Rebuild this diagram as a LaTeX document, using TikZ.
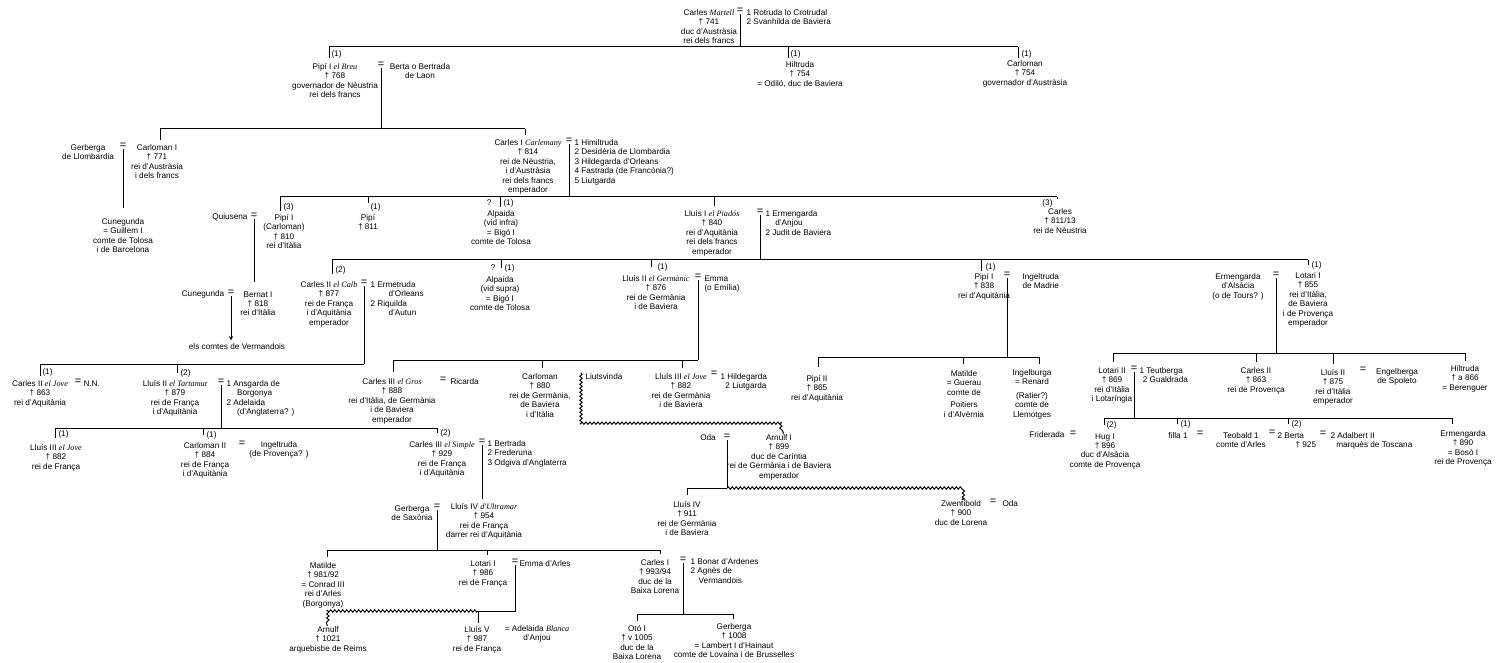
\documentclass[tikz,border=0pt]{standalone}
\usepackage{fontspec}
\setmainfont{Liberation Sans}
\newfontfamily\epfont{Liberation Serif}
\newcommand{\epit}[1]{{\epfont\itshape #1}}
\usetikzlibrary{decorations.pathmorphing}

\begin{document}
\begin{tikzpicture}[x=1pt,y=-1pt,line width=1pt,>=stealth,
  every node/.style={inner sep=0pt,font=\fontsize{8.2}{9.4}\selectfont}]
\tikzstyle{persona}=[anchor=north,align=center,yshift=3pt]
\tikzstyle{esposes}=[anchor=north west,align=left,yshift=3pt]
\tikzstyle{ord}=[anchor=west]
\tikzstyle{igual}=[font=\fontsize{11}{11}\selectfont]
\tikzstyle{ondulat}=[decorate,decoration={snake,amplitude=1.1pt,segment length=4pt}]

\useasboundingbox (0,0) rectangle (1500,663);

% Carles Martell
\node[persona] (cmart) at (709,12) {Carles \epit{Martell}\\† 741\\duc d'Austràsia\\rei dels francs};
\node[igual] (e1) at (740,11) {=};
\node[esposes] (cmartw) at (746,12) {1 Rotruda lo Crotrudal\\2 Svanhilda de Baviera};

% Fills de Carles Martell
\node[ord] (o1a) at (331,54) {(1)};
\node[ord] (o1b) at (790,54) {(1)};
\node[ord] (o1c) at (1021,54) {(1)};
\node[persona] (pipi) at (335,66) {Pipí I \epit{el Breu}\\† 768\\governador de Nèustria\\rei dels francs};
\node[igual] (e2) at (381,65) {=};
\node[persona] (berta) at (420,66) {Berta o Bertrada\\de Laon};
\node[persona] (hiltr) at (800,64) {Hiltruda\\† 754\\= Odiló, duc de Baviera};
\node[persona] (carlo) at (1025,63) {Carloman\\† 754\\governador d'Austràsia};

% Fills de Pipí el Breu
\node[persona] (gerb) at (88,147) {Gerberga\\de Llombardia};
\node[igual] (e3) at (123,146) {=};
\node[persona] (carl1) at (157,147) {Carloman I\\† 771\\rei d'Austràsia\\i dels francs};
\node[persona] (cune1) at (123,221) {Cunegunda\\= Guillem I\\comte de Tolosa\\i de Barcelona};
\node[persona] (carlem) at (528,142) {Carles I \epit{Carlemany}\\† 814\\rei de Nèustria,\\i d'Austràsia\\rei dels francs\\emperador};
\node[igual] (e4) at (569,141) {=};
\node[esposes] (carlemw) at (574,142) {1 Himiltruda\\2 Desidèria de Llombardia\\3 Hildegarda d'Orleans\\4 Fastrada (de Francònia?)\\5 Liutgarda};

% Fills de Carlemany
\node[ord] (o3a) at (283,207) {(3)};
\node[ord] (o3b) at (370,207) {(1)};
\node[anchor=east] (q3c) at (492,203) {?};
\node[ord] (o3c) at (503,203) {(1)};
\node[anchor=east] (o3e) at (1053,203) {(3)};
\node (quius) at (230,217) {Quiusena};
\node[igual] (e5) at (254,216) {=};
\node[persona] (pipi1) at (284,217) {Pipí I\\(Carloman)\\† 810\\rei d'Itàlia};
\node[persona] (pipi2) at (368,217) {Pipí\\† 811};
\node[persona] (alpa1) at (501,213) {Alpaida\\(vid infra)\\= Bigó I\\comte de Tolosa};
\node[persona] (lluis1) at (712,213) {Lluís I \epit{el Piadós}\\† 840\\rei d'Aquitània\\rei dels francs\\emperador};
\node[igual] (e6) at (760,212) {=};
\node[esposes] (lluis1w) at (765,213) {1 Ermengarda\\\hspace*{1.2em}d'Anjou\\2 Judit de Baviera};
\node[persona] (carl3) at (1060,211) {Carles\\† 811/13\\rei de Nèustria};

% Bernat d'Itàlia
\node (cune2) at (203,294) {Cunegunda};
\node[igual] (e7) at (231,293) {=};
\node[persona] (bern) at (258,294) {Bernat I\\† 818\\rei d'Itàlia};
\node (verm) at (237,347) {els comtes de Vermandois};

% Fills de Lluís el Piadós
\node[ord] (o4a) at (335,270) {(2)};
\node[anchor=east] (q4b) at (496,268) {?};
\node[ord] (o4b) at (504,268) {(1)};
\node[ord] (o4c) at (657,267) {(1)};
\node[ord] (o4d) at (985,267) {(1)};
\node[ord] (o4e) at (1311,265) {(1)};
\node[persona] (calb) at (329,284) {Carles II \epit{el Calb}\\† 877\\rei de França\\i d'Aquitània\\emperador};
\node[igual] (e8) at (364,283) {=};
\node[esposes] (calbw) at (370,284) {1 Ermetruda\\\hspace*{2.2em}d'Orleans\\2 Riquilda\\\hspace*{2.2em}d'Autun};
\node[persona] (alpa2) at (500,279) {Alpaida\\(vid supra)\\= Bigó I\\comte de Tolosa};
\node[persona] (germ) at (656,278) {Lluís II \epit{el Germànic}\\† 876\\rei de Germània\\i de Baviera};
\node[igual] (e9) at (698,277) {=};
\node[esposes] (emma) at (704,278) {Emma\\(o Emília)};
\node[persona] (pipi3) at (984,276) {Pipí I\\† 838\\rei d'Aquitània};
\node[igual] (e10) at (1007,275) {=};
\node[esposes] (ingel) at (1022,276) {Ingeltruda\\de Madrie};
\node[persona] (ermal) at (1238,276) {Ermengarda\\d'Alsàcia\\(o de Tours? )};
\node[igual] (e11) at (1276,275) {=};
\node[persona] (lot1) at (1308,275) {Lotari I\\† 855\\rei d'Itàlia,\\de Baviera\\i de Provença\\emperador};

% Fills de Carles el Calb
\node[ord] (o5a) at (42,372) {(1)};
\node[ord] (o5b) at (180,373) {(2)};
\node[persona] (jove1) at (40,383) {Carles II \epit{el Jove}\\† 863\\rei d'Aquitània};
\node[igual] (e12) at (78,382) {=};
\node[esposes] (nn) at (83,383) {N.N.};
\node[persona] (tart) at (175,383) {Lluís II \epit{el Tartamut}\\† 879\\rei de França\\i d'Aquitània};
\node[igual] (e13) at (221,382) {=};
\node[esposes] (tartw) at (226,383) {1 Ansgarda de\\\hspace*{1.3em}Borgonya\\2 Adelaida\\\hspace*{1.3em}(d'Anglaterra? )};

% Fills de Lluís el Germànic
\node[persona] (gros) at (392,381) {Carles III \epit{el Gros}\\† 888\\rei d'Itàlia, de Germània\\i de Baviera\\emperador};
\node[igual] (e14) at (443,380) {=};
\node[esposes] (ricar) at (450,381) {Ricarda};
\node[persona] (carl4) at (540,376) {Carloman\\† 880\\rei de Germània,\\de Baviera\\i d'Itàlia};
\node[esposes] (liuts) at (585,376) {Liutsvinda};
\node[persona] (jove2) at (681,376) {Lluís III \epit{el Jove}\\† 882\\rei de Germània\\i de Baviera};
\node[igual] (e15) at (714,374) {=};
\node[esposes] (jove2w) at (720,376) {1 Hildegarda\\\hspace*{0.6em}2 Liutgarda};

% Fills de Pipí I d'Aquitània
\node[persona] (pipi4) at (817,378) {Pipí II\\† 865\\rei d'Aquitània};
\node[persona] (matil1) at (964,373) {Matilde\\= Guerau\\comte de\\[3pt]Poitiers\\i d'Alvèrnia};
\node[persona] (ingb) at (1032,372) {Ingelburga\\= Renard\\[4pt](Ratier?)\\comte de\\Llemotges};

% Fills de Lotari I
\node[persona] (lot2) at (1112,370) {Lotari II\\† 869\\rei d'Itàlia\\i Lotaríngia};
\node[igual] (e16) at (1134,369) {=};
\node[esposes] (lot2w) at (1139,370) {1 Teutberga\\\hspace*{0.4em}2 Gualdrada};
\node[persona] (carl5) at (1256,370) {Carles II\\† 863\\rei de Provença};
\node[persona] (lluis2) at (1333,372) {Lluís II\\† 875\\rei d'Itàlia\\emperador};
\node[igual] (e17) at (1363,370) {=};
\node[persona] (engel) at (1397,371) {Engelberga\\de Spoleto};
\node[persona] (hiltr2) at (1465,368) {Hiltruda\\† a 866\\= Berenguer};

% Fills de Lluís el Tartamut
\node[ord] (o6a) at (58,434) {(1)};
\node[ord] (o6b) at (206,435) {(1)};
\node[ord] (o6c) at (440,433) {(2)};
\node[persona] (jove3) at (56,447) {Lluís III \epit{el Jove}\\† 882\\rei de França};
\node[persona] (carl6) at (205,445) {Carloman II\\† 884\\rei de França\\i d'Aquitània};
\node[igual] (e18) at (242,444) {=};
\node[persona] (ingt) at (279,444) {Ingeltruda\\(de Provença? )};
\node[persona] (simp) at (442,444) {Carles III \epit{el Simple}\\† 929\\rei de França\\i d'Aquitània};
\node[igual] (e19) at (482,442) {=};
\node[esposes] (simpw) at (487,443) {1 Bertrada\\2 Frederuna\\3 Odgiva d'Anglaterra};
\node[persona] (ultr) at (484,506) {Lluís IV \epit{d'Ultramar}\\† 954\\rei de França\\darrer rei d'Aquitània};
\node[persona] (gerb2) at (412,508) {Gerberga\\de Saxònia};
\node[igual] (e20) at (437,507) {=};

% Arnulf de Caríntia
\node (oda1) at (708,438) {Oda};
\node[igual] (e21) at (727,437) {=};
\node[persona] (arn1) at (779,437) {Arnulf I\\† 899\\duc de Caríntia\\rei de Germània i de Baviera\\emperador};
\node[persona] (lluis4) at (687,504) {Lluís IV\\† 911\\rei de Germània\\i de Baviera};
\node[persona] (zwent) at (961,503) {Zwentibold\\† 900\\duc de Lorena};
\node[igual] (e22) at (993,502) {=};
\node[esposes] (oda2) at (1002,503) {Oda};

% Fills de Lotari II
\node[ord] (o6d) at (1106,425) {(2)};
\node[ord] (o6e) at (1180,424) {(1)};
\node[ord] (o6f) at (1291,424) {(2)};
\node (frid) at (1047,435) {Friderada};
\node[igual] (e23) at (1073,434) {=};
\node[persona] (hug) at (1105,436) {Hug I\\† 896\\duc d'Alsàcia\\comte de Provença};
\node[persona] (filla) at (1178,435) {filla 1};
\node[igual] (e24) at (1200,434) {=};
\node[persona] (teob) at (1241,435) {Teobald 1\\comte d'Arles};
\node[igual] (e25) at (1272,433) {=};
\node[esposes] (berta2) at (1277,435) {2 Berta\\\hspace*{2.2em}† 925};
\node[igual] (e26) at (1323,434) {=};
\node[esposes] (adal) at (1330,435) {2 Adalbert II\\\hspace*{0.7em}marquès de Toscana};
\node[persona] (ermen) at (1463,433) {Ermengarda\\† 890\\= Bosó I\\rei de Provença};

% Fills de Lluís d'Ultramar
\node[persona] (matil2) at (323,565) {Matilde\\† 981/92\\= Conrad III\\rei d'Arles\\(Borgonya)};
\node[persona] (lot3) at (483,563) {Lotari I\\† 986\\rei de França};
\node[igual] (e27) at (515,562) {=};
\node[esposes] (emma2) at (519,563) {Emma d'Arles};
\node[persona] (carl7) at (655,562) {Carles I\\† 993/94\\duc de la\\Baixa Lorena};
\node[igual] (e28) at (683,560) {=};
\node[esposes] (carl7w) at (690,561) {1 Bonar d'Ardenes\\2 Agnès de\\\hspace*{1em}Vermandois};
\node[persona] (arn2) at (328,629) {Arnulf\\† 1021\\arquebisbe de Reims};
\node[persona] (lluis5) at (477,629) {Lluís V\\† 987\\rei de França};
\node[persona] (adel) at (537,628) {= Adelaida \epit{Blanca}\\d'Anjou};
\node[persona] (oto) at (637,628) {Otó I\\† v 1005\\duc de la\\Baixa Lorena};
\node[persona] (gerb3) at (734,626) {Gerberga\\† 1008\\= Lambert I d'Hainaut\\comte de Lovaina i de Brusselles};

% Barres de germans
\coordinate (b1a) at (329,47);  \coordinate (b1b) at (788,47);  \coordinate (b1c) at (1018,47);
\coordinate (b2a) at (160,129); \coordinate (b2b) at (525,129);
\coordinate (b3a) at (280,197); \coordinate (b3b) at (368,197); \coordinate (b3c) at (500,197);
\coordinate (b3d) at (714,197); \coordinate (b3e) at (1057,197);
\coordinate (b4a) at (332,260); \coordinate (b4b) at (501,260); \coordinate (b4c) at (651,260);
\coordinate (b4d) at (981,260); \coordinate (b4e) at (1308,260);
\coordinate (b5a) at (40,364);  \coordinate (b5b) at (177,364);
\coordinate (b5c) at (393,360); \coordinate (b5d) at (542,360); \coordinate (b5e) at (682,360);
\coordinate (b5f) at (818,357); \coordinate (b5g) at (963,357); \coordinate (b5h) at (1039,357);
\coordinate (b5i) at (1113,353); \coordinate (b5j) at (1256,353); \coordinate (b5k) at (1333,353);
\coordinate (b5l) at (1465,353);
\coordinate (b6a) at (55,428);  \coordinate (b6b) at (203,428); \coordinate (b6c) at (437,428);
\coordinate (b6d) at (1104,418); \coordinate (b6e) at (1177,418); \coordinate (b6f) at (1288,418);
\coordinate (b6g) at (1452,418);
\coordinate (b7a) at (327,550); \coordinate (b7b) at (487,550); \coordinate (b7c) at (660,550);
\coordinate (b8a) at (687,488); \coordinate (b8b) at (962,488);
\coordinate (b9a) at (478,611); \coordinate (b9b) at (327,611);
\coordinate (b9c) at (637,614); \coordinate (b9d) at (733,614);
\coordinate (w5a) at ([xshift=-4pt]liuts.north west);
\coordinate (w5b) at (783,423);

% Linies de matrimoni
\draw (e1.south) -- (e1.south |- b1a);
\draw (e2.south) -- (e2.south |- b2a);
\draw[shorten >=10pt] (e3.south) -- (cune1.north);
\draw (e4.south) -- (e4.south |- b3a);
\draw[shorten >=9pt] (e5.south) -- (e5.south |- bern.north);
\draw (e6.south) -- (e6.south |- b4a);
\draw[->,shorten >=3pt] (e7.south) -- (e7.south |- verm.north);
\draw (e8.south) -- (e8.south |- b5a);
\draw (e9.south) -- (e9.south |- b5c);
\draw (e10.south) -- (e10.south |- b5f);
\draw (e11.south) -- (e11.south |- b5i);
\draw (e13.south) -- (e13.south |- b6a);
\draw (e16.south) -- (e16.south |- b6d);
\draw[shorten >=4pt] (e19.south) -- (e19.south |- ultr.north);
\draw (e20.south) -- (e20.south |- b7a);
\draw (e21.south) -- (e21.south |- b8a);
\draw (e27.south) -- (e27.south |- b9a) -- (b9a);
\draw (e28.south) -- (e28.south |- b9c);

% Barres
\draw (b1a) -- (b1c);
\draw (b2a) -- (b2b);
\draw (b3a) -- (b3e);
\draw (b4a) -- (b4e);
\draw (b5a) -- (e8.south |- b5a);
\draw (b5c) -- (e9.south |- b5c);
\draw (b5f) -- (b5h);
\draw (b5i) -- (b5l);
\draw (b6a) -- (b6c);
\draw (b6d) -- (b6g);
\draw (b7a) -- (b7c);
\draw (b8a) -- (e21.south |- b8a);
\draw (b9c) -- (b9d);

% Fills il.legitims
\draw[ondulat] (w5a) |- (w5b) -- (w5b |- arn1.north);
\draw[ondulat] (e21.south |- b8a) -- (b8b) -- (b8b |- zwent.north);
\draw[ondulat] (b9a) -- (b9b) -- (b9b |- arn2.north);

% Traços cap als fills
\draw (b1a) -- (b1a |- o1a.south);
\draw (b1b) -- (b1b |- o1b.south);
\draw (b1c) -- (b1c |- o1c.south);
\draw[shorten >=4pt] (b2a) -- (b2a |- carl1.north);
\draw[shorten >=4pt] (b2b) -- (b2b |- carlem.north);
\draw (b3a) -- (b3a |- o3a.south);
\draw (b3b) -- (b3b |- o3b.north);
\draw (b3c) -- (b3c |- o3c.south);
\draw[shorten >=4pt] (b3d) -- (b3d |- lluis1.north);
\draw (b3e) -- (b3e |- o3e.north);
\draw (b4a) -- (b4a |- o4a.south);
\draw (b4b) -- (b4b |- o4b.center);
\draw (b4c) -- (b4c |- o4c.center);
\draw (b4d) -- (b4d |- o4d.south);
\draw (b4e) -- (b4e |- o4e.center);
\draw (b5a) -- (b5a |- o5a.south);
\draw (b5b) -- (b5b |- o5b.center);
\draw[shorten >=6pt] (b5c) -- (b5c |- gros.north);
\draw[shorten >=5pt] (b5d) -- (b5d |- carl4.north);
\draw[shorten >=5pt] (b5e) -- (b5e |- jove2.north);
\draw[shorten >=8pt] (b5f) -- (b5f |- pipi4.north);
\draw[shorten >=6pt] (b5g) -- (b5g |- matil1.north);
\draw[shorten >=5pt] (b5h) -- (b5h |- ingb.north);
\draw[shorten >=5pt] (b5i) -- (b5i |- lot2.north);
\draw[shorten >=5pt] (b5j) -- (b5j |- carl5.north);
\draw[shorten >=5pt] (b5k) -- (b5k |- lluis2.north);
\draw[shorten >=4pt] (b5l) -- (b5l |- hiltr2.north);
\draw (b6a) -- (b6a |- o6a.south);
\draw (b6b) -- (b6b |- o6b.center);
\draw (b6c) -- (b6c |- o6c.center);
\draw (b6d) -- (b6d |- o6d.center);
\draw (b6e) -- (b6e |- o6e.center);
\draw (b6f) -- (b6f |- o6f.center);
\draw[shorten >=6pt] (b6g) -- (b6g |- ermen.north);
\draw[shorten >=5pt] (b7a) -- (b7a |- matil2.north);
\draw[shorten >=5pt] (b7b) -- (b7b |- lot3.north);
\draw[shorten >=5pt] (b7c) -- (b7c |- carl7.north);
\draw[shorten >=6pt] (b8a) -- (b8a |- lluis4.north);
\draw[shorten >=3pt] (b9a) -- (b9a |- lluis5.north);
\draw[shorten >=4pt] (b9c) -- (b9c |- oto.north);
\draw[shorten >=4pt] (b9d) -- (b9d |- gerb3.north);
\end{tikzpicture}
\end{document}
